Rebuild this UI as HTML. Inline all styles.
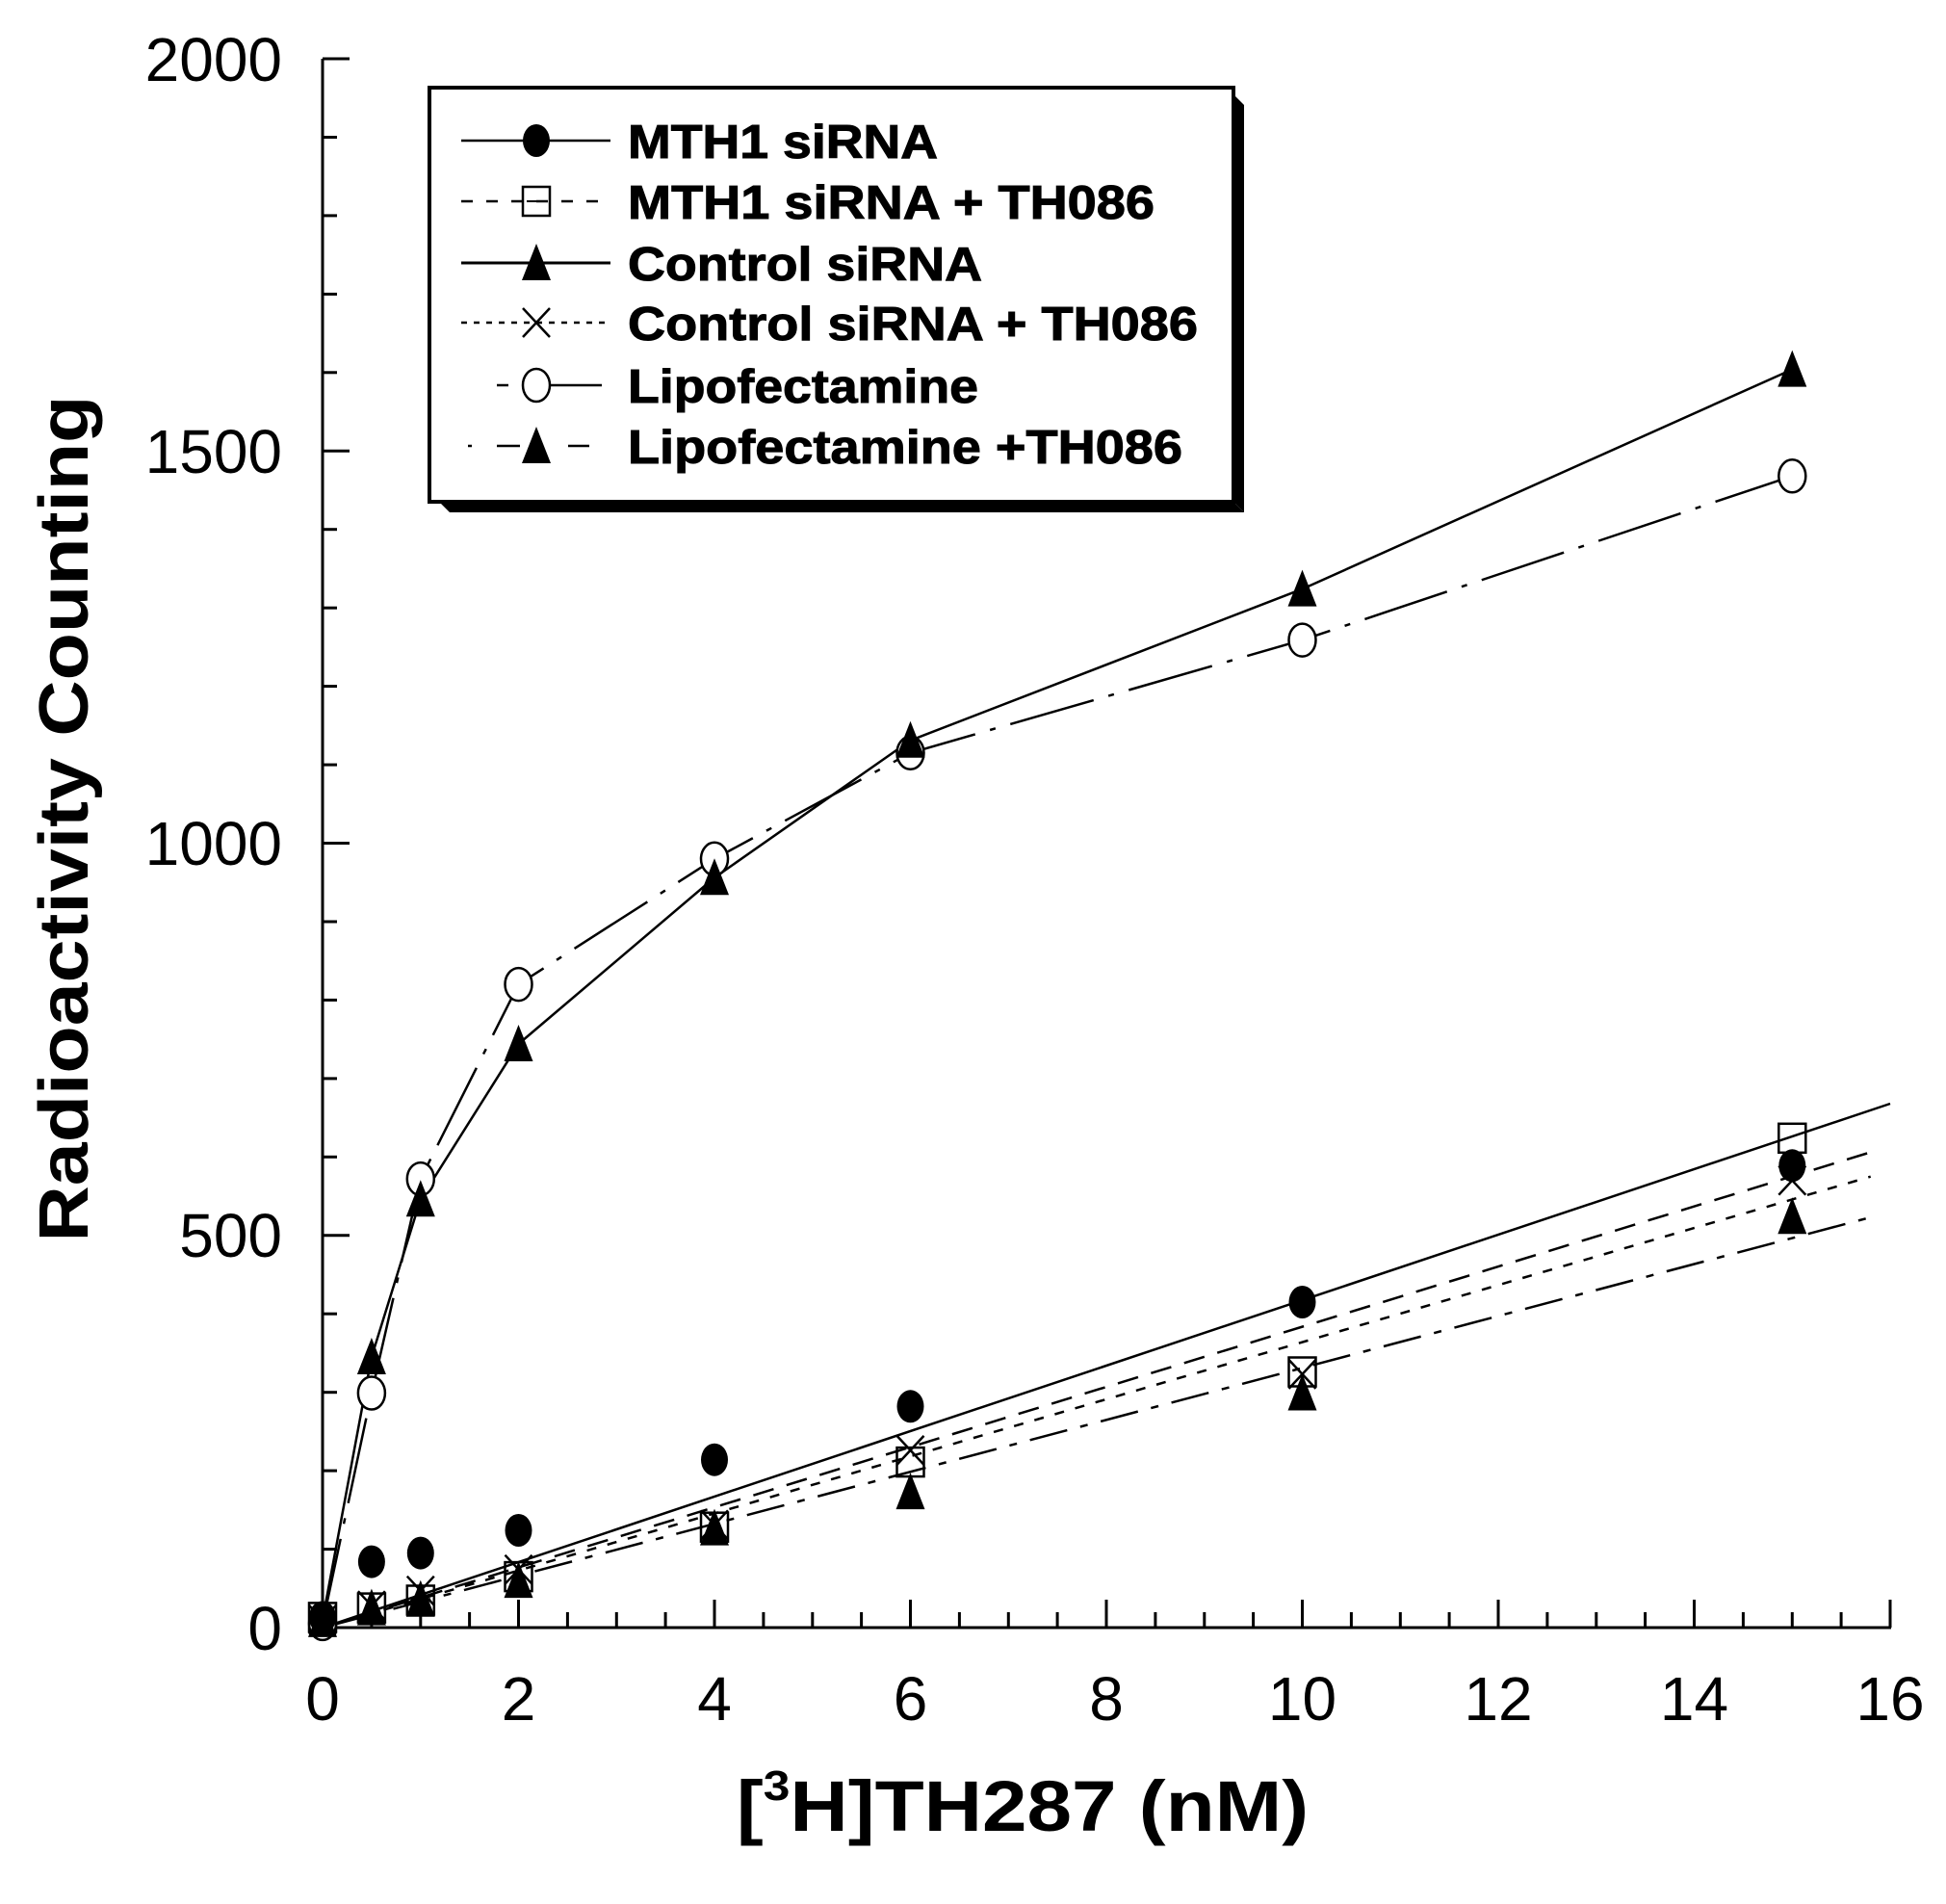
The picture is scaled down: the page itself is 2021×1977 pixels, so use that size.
<!DOCTYPE html>
<html><head><meta charset="utf-8"><style>html,body{margin:0;padding:0;background:#fff}svg{display:block}</style></head>
<body>
<svg width="2021" height="1977" viewBox="0 0 2021 1977" xmlns="http://www.w3.org/2000/svg" font-family="Liberation Sans, Arial, sans-serif">
<defs>
<g id="tri"><polygon points="0,-20 15,18 -15,18" fill="#000"/></g>
<g id="circ"><ellipse cx="0" cy="0" rx="14" ry="17" fill="#000"/></g>
<g id="ocirc"><ellipse cx="0" cy="0" rx="14" ry="17" fill="#fff" stroke="#000" stroke-width="2.5"/></g>
<g id="sq"><rect x="-14" y="-15" width="28" height="30" fill="none" stroke="#000" stroke-width="2.5"/></g>
<g id="xx"><path d="M-14,-15 L14,15 M14,-15 L-14,15" stroke="#000" stroke-width="2.5" fill="none"/></g>
</defs>
<g stroke="#000" stroke-width="3" fill="none">
<line x1="335" y1="61" x2="335" y2="1691"/>
<line x1="334" y1="1690" x2="1964" y2="1690"/>
</g>
<g stroke="#000" stroke-width="3">
<line x1="335" y1="61" x2="363" y2="61"/>
<line x1="335" y1="142.5" x2="350" y2="142.5"/>
<line x1="335" y1="223.9" x2="350" y2="223.9"/>
<line x1="335" y1="305.4" x2="350" y2="305.4"/>
<line x1="335" y1="386.8" x2="350" y2="386.8"/>
<line x1="335" y1="468.3" x2="363" y2="468.3"/>
<line x1="335" y1="549.7" x2="350" y2="549.7"/>
<line x1="335" y1="631.2" x2="350" y2="631.2"/>
<line x1="335" y1="712.6" x2="350" y2="712.6"/>
<line x1="335" y1="794.1" x2="350" y2="794.1"/>
<line x1="335" y1="875.5" x2="363" y2="875.5"/>
<line x1="335" y1="957" x2="350" y2="957"/>
<line x1="335" y1="1038.4" x2="350" y2="1038.4"/>
<line x1="335" y1="1119.9" x2="350" y2="1119.9"/>
<line x1="335" y1="1201.3" x2="350" y2="1201.3"/>
<line x1="335" y1="1282.8" x2="363" y2="1282.8"/>
<line x1="335" y1="1364.2" x2="350" y2="1364.2"/>
<line x1="335" y1="1445.7" x2="350" y2="1445.7"/>
<line x1="335" y1="1527.1" x2="350" y2="1527.1"/>
<line x1="335" y1="1608.6" x2="350" y2="1608.6"/>
</g>
<g stroke="#000" stroke-width="3">
<line x1="385.9" y1="1690" x2="385.9" y2="1674"/><line x1="436.8" y1="1690" x2="436.8" y2="1674"/><line x1="487.6" y1="1690" x2="487.6" y2="1674"/><line x1="538.5" y1="1690" x2="538.5" y2="1661"/>
<line x1="589.4" y1="1690" x2="589.4" y2="1674"/><line x1="640.3" y1="1690" x2="640.3" y2="1674"/><line x1="691.1" y1="1690" x2="691.1" y2="1674"/><line x1="742" y1="1690" x2="742" y2="1661"/>
<line x1="792.9" y1="1690" x2="792.9" y2="1674"/><line x1="843.8" y1="1690" x2="843.8" y2="1674"/><line x1="894.6" y1="1690" x2="894.6" y2="1674"/><line x1="945.5" y1="1690" x2="945.5" y2="1661"/>
<line x1="996.4" y1="1690" x2="996.4" y2="1674"/><line x1="1047.3" y1="1690" x2="1047.3" y2="1674"/><line x1="1098.1" y1="1690" x2="1098.1" y2="1674"/><line x1="1149" y1="1690" x2="1149" y2="1661"/>
<line x1="1199.9" y1="1690" x2="1199.9" y2="1674"/><line x1="1250.8" y1="1690" x2="1250.8" y2="1674"/><line x1="1301.6" y1="1690" x2="1301.6" y2="1674"/><line x1="1352.5" y1="1690" x2="1352.5" y2="1661"/>
<line x1="1403.4" y1="1690" x2="1403.4" y2="1674"/><line x1="1454.3" y1="1690" x2="1454.3" y2="1674"/><line x1="1505.1" y1="1690" x2="1505.1" y2="1674"/><line x1="1556" y1="1690" x2="1556" y2="1661"/>
<line x1="1606.9" y1="1690" x2="1606.9" y2="1674"/><line x1="1657.8" y1="1690" x2="1657.8" y2="1674"/><line x1="1708.6" y1="1690" x2="1708.6" y2="1674"/><line x1="1759.5" y1="1690" x2="1759.5" y2="1661"/>
<line x1="1810.4" y1="1690" x2="1810.4" y2="1674"/><line x1="1861.3" y1="1690" x2="1861.3" y2="1674"/><line x1="1912.1" y1="1690" x2="1912.1" y2="1674"/><line x1="1963" y1="1690" x2="1963" y2="1661"/>
</g>
<g font-size="64" text-anchor="end" fill="#000">
<text x="293" y="84">2000</text>
<text x="293" y="491">1500</text>
<text x="293" y="898">1000</text>
<text x="293" y="1305">500</text>
<text x="293" y="1713">0</text>
</g>
<g font-size="64" text-anchor="middle" fill="#000">
<text x="335" y="1786">0</text><text x="538.5" y="1786">2</text><text x="742" y="1786">4</text><text x="945.5" y="1786">6</text>
<text x="1149" y="1786">8</text><text x="1352.5" y="1786">10</text><text x="1556" y="1786">12</text><text x="1759.5" y="1786">14</text><text x="1963" y="1786">16</text>
</g>
<text transform="translate(1062,1901) scale(1.13,1)" x="0" y="0" font-size="74" font-weight="bold" text-anchor="middle">[<tspan font-size="44" dy="-32">3</tspan><tspan dy="32">H]TH287 (nM)</tspan></text>
<text transform="translate(91,850) rotate(-90)" font-size="72" font-weight="bold" text-anchor="middle" textLength="879" lengthAdjust="spacingAndGlyphs">Radioactivity Counting</text>
<g fill="none" stroke="#000" stroke-width="2.5">
<polyline points="335,1681.9 385.9,1409 436.8,1245.3 538.5,1084 742,911.3 945.5,768.8 1352.5,611.6 1861.3,383.6"/>
<polyline stroke-dasharray="90,16,6,16" points="335,1685.9 385.9,1446.5 436.8,1224.1 538.5,1022.1 742,891.8 945.5,781.8 1352.5,664.6 1861.3,494.3"/>
<line x1="335" y1="1690" x2="1963" y2="1146"/>
<line x1="335" y1="1690" x2="1942.7" y2="1196.4" stroke-dasharray="22,14"/>
<line x1="335" y1="1690" x2="1942.7" y2="1221.7" stroke-dasharray="10,12"/>
<line x1="335" y1="1690" x2="1942.7" y2="1264" stroke-dasharray="40,14,8,14"/>
</g>
<g>
<use href="#ocirc" x="335" y="1685.9"/><use href="#ocirc" x="385.9" y="1446.5"/><use href="#ocirc" x="436.8" y="1224.1"/><use href="#ocirc" x="538.5" y="1022.1"/><use href="#ocirc" x="742" y="891.8"/><use href="#ocirc" x="945.5" y="781.8"/><use href="#ocirc" x="1352.5" y="664.6"/><use href="#ocirc" x="1861.3" y="494.3"/>
<use href="#sq" x="335" y="1679.4"/><use href="#sq" x="385.9" y="1669.6"/><use href="#sq" x="436.8" y="1661.5"/><use href="#sq" x="538.5" y="1637.1"/><use href="#sq" x="742" y="1585.7"/><use href="#sq" x="945.5" y="1518.1"/><use href="#sq" x="1352.5" y="1424.5"/><use href="#sq" x="1861.3" y="1181.8"/>
<use href="#xx" x="335" y="1681.9"/><use href="#xx" x="385.9" y="1667.2"/><use href="#xx" x="436.8" y="1651.7"/><use href="#xx" x="538.5" y="1629.7"/><use href="#xx" x="742" y="1583.3"/><use href="#xx" x="945.5" y="1505.9"/><use href="#xx" x="1352.5" y="1426.9"/><use href="#xx" x="1861.3" y="1225.7"/>
<use href="#circ" x="335" y="1679.4"/><use href="#circ" x="385.9" y="1621.6"/><use href="#circ" x="436.8" y="1612.6"/><use href="#circ" x="538.5" y="1589"/><use href="#circ" x="742" y="1515.7"/><use href="#circ" x="945.5" y="1460.3"/><use href="#circ" x="1352.5" y="1352"/><use href="#circ" x="1861.3" y="1210.3"/>
<use href="#tri" x="385.9" y="1669.6"/><use href="#tri" x="436.8" y="1660.7"/><use href="#tri" x="538.5" y="1641.1"/><use href="#tri" x="742" y="1586.6"/><use href="#tri" x="945.5" y="1549.1"/><use href="#tri" x="1352.5" y="1446.5"/><use href="#tri" x="1861.3" y="1263.2"/>
<use href="#tri" x="335" y="1681.9"/><use href="#tri" x="385.9" y="1409"/><use href="#tri" x="436.8" y="1245.3"/><use href="#tri" x="538.5" y="1084"/><use href="#tri" x="742" y="911.3"/><use href="#tri" x="945.5" y="768.8"/><use href="#tri" x="1352.5" y="611.6"/><use href="#tri" x="1861.3" y="383.6"/>
</g>
<polygon points="456,521 1281,521 1292,532 467,532" fill="#000"/>
<polygon points="1281,98 1292,109 1292,532 1281,521" fill="#000"/>
<rect x="446" y="91" width="835" height="430" fill="#fff" stroke="#000" stroke-width="4"/>
<g stroke="#000" stroke-width="2.5" fill="none">
<line x1="479" y1="146" x2="634" y2="146"/>
<line x1="479" y1="209" x2="634" y2="209" stroke-dasharray="12,14"/>
<line x1="479" y1="273" x2="634" y2="273" stroke-width="3"/>
<line x1="479" y1="335" x2="634" y2="335" stroke-dasharray="6,7"/>
<line x1="516" y1="400" x2="528" y2="400"/><line x1="545" y1="400" x2="625" y2="400"/>
<line x1="486" y1="463" x2="490" y2="463"/><line x1="516" y1="463" x2="540" y2="463"/><line x1="590" y1="463" x2="612" y2="463"/>
</g>
<use href="#circ" x="557" y="146"/>
<use href="#sq" x="557" y="209"/><line x1="547" y1="209" x2="567" y2="209" stroke="#000" stroke-width="2"/>
<use href="#tri" x="557" y="273"/>
<use href="#xx" x="557" y="335"/>
<use href="#ocirc" x="557" y="400"/>
<use href="#tri" x="557" y="463"/>
<g font-size="49" font-weight="bold" fill="#000" stroke="#000" stroke-width="1">
<text x="652" y="164" textLength="322" lengthAdjust="spacingAndGlyphs">MTH1 siRNA</text>
<text x="652" y="227" textLength="547" lengthAdjust="spacingAndGlyphs">MTH1 siRNA + TH086</text>
<text x="652" y="291" textLength="368" lengthAdjust="spacingAndGlyphs">Control siRNA</text>
<text x="652" y="353" textLength="592" lengthAdjust="spacingAndGlyphs">Control siRNA + TH086</text>
<text x="652" y="418" textLength="364" lengthAdjust="spacingAndGlyphs">Lipofectamine</text>
<text x="652" y="481" textLength="576" lengthAdjust="spacingAndGlyphs">Lipofectamine +TH086</text>
</g>
</svg>
</body></html>
